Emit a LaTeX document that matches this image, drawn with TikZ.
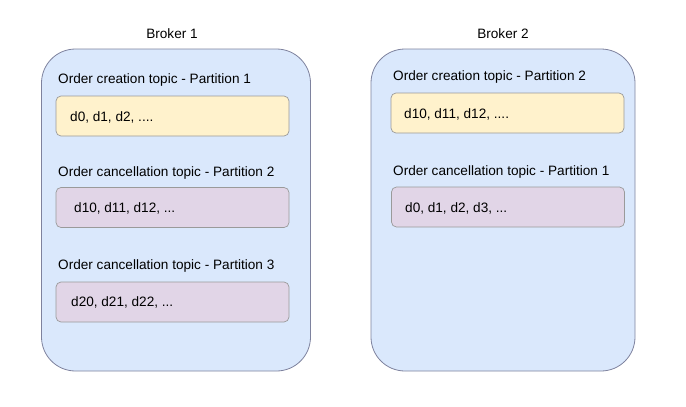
\documentclass[tikz,border=0pt]{standalone}
\usepackage{fontspec}
\setmainfont{Liberation Sans}
\definecolor{brokerfill}{HTML}{DAE8FC}
\definecolor{brokerline}{HTML}{7E829E}
\definecolor{yfill}{HTML}{FFF2CC}
\definecolor{pfill}{HTML}{E1D5E7}
\definecolor{boxline}{HTML}{9A9A9A}
\begin{document}
\begin{tikzpicture}[x=1pt,y=-1pt,
  broker/.style={draw=brokerline,fill=brokerfill,line width=0.8pt,rounded corners=34pt,minimum width=#1,minimum height=322pt,inner sep=0pt},
  part/.style={draw=boxline,line width=0.7pt,rounded corners=5pt,minimum width=233pt,minimum height=40pt,inner sep=0pt},
  ybox/.style={part,fill=yfill},
  pbox/.style={part,fill=pfill},
  lbl/.style={font=\fontsize{13.6pt}{16pt}\selectfont,anchor=west,inner sep=0pt},
  ttl/.style={font=\fontsize{13.6pt}{16pt}\selectfont,inner sep=0pt}]
\useasboundingbox (0,0) rectangle (686,407);
\node[broker=269pt] (b1) at (176,210) {};
\node[broker=264pt] (b2) at (503,210) {};
\node[ttl] (t1) at (172,34) {Broker 1};
\node[ttl] (t2) at (503,34) {Broker 2};
% broker 1
\node[lbl] (l11) at (58,80) {Order creation topic - Partition 1};
\node[ybox] (p11) at (172.5,116) {};
\node[lbl] (d11) at (70,117) {d0, d1, d2, ....};
\node[lbl] (l12) at (58,173) {Order cancellation topic - Partition 2};
\node[pbox] (p12) at (172.5,207.5) {};
\node[lbl] (d12) at (74,208) {d10, d11, d12, ...};
\node[lbl] (l13) at (58,266) {Order cancellation topic - Partition 3};
\node[pbox] (p13) at (172.5,302) {};
\node[lbl] (d13) at (71,302) {d20, d21, d22, ...};
% broker 2
\node[lbl] (l21) at (393,77) {Order creation topic - Partition 2};
\node[ybox] (p21) at (507.5,113) {};
\node[lbl] (d21) at (404,114) {d10, d11, d12, ....};
\node[lbl] (l22) at (393,172) {Order cancellation topic - Partition 1};
\node[pbox] (p22) at (508,207) {};
\node[lbl] (d22) at (405,208) {d0, d1, d2, d3, ...};
\end{tikzpicture}
\end{document}
